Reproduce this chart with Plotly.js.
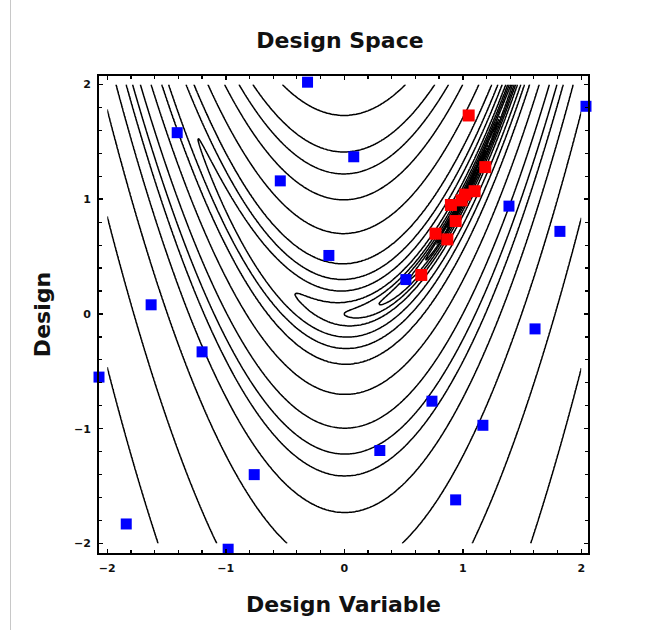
<!DOCTYPE html>
<html><head><meta charset="utf-8">
<script src="https://cdn.plot.ly/plotly-3.0.1.min.js"></script>
<style>
html,body{margin:0;padding:0;background:#fff;}
#frame{position:absolute;left:10px;top:0;width:0;height:630px;border-left:1px solid #c8c8c8;}
</style>
</head><body>
<div id="chart" style="width:652px;height:630px;"></div>
<div id="frame"></div>
<script>
// Contour levels of the design-space objective
const contourLevels = [0.01, 0.02, 0.05, 0.1, 0.2, 0.5, 1, 2, 5, 10, 20, 50, 100, 150, 200, 300, 500, 1000, 2000];
const gridMin = -2, gridMax = 2, gridStep = 0.01;

// Sample designs (blue) and optimizer path (red)
const blueX = [-0.31, 2.04, -1.41, 0.08, -0.54, 1.39, 1.82, -0.13, 0.52, -1.63, 1.61, -1.20, -2.07, 0.74, 1.17, 0.30, -0.76, 0.94, -1.84, -0.98];
const blueY = [2.02, 1.81, 1.58, 1.37, 1.16, 0.94, 0.72, 0.51, 0.30, 0.08, -0.13, -0.33, -0.55, -0.76, -0.97, -1.19, -1.40, -1.62, -1.83, -2.05];
const redX = [1.05, 1.19, 1.10, 1.02, 0.99, 0.90, 0.94, 0.77, 0.87, 0.65];
const redY = [1.73, 1.28, 1.07, 1.04, 0.99, 0.95, 0.81, 0.70, 0.65, 0.34];

const xTickVals = [-2, -1, 0, 1, 2];
const yTickVals = [-2, -1, 0, 1, 2];

// Objective (Rosenbrock) evaluated on the grid, mapped to level index
function objective(x, y) { return (1 - x) * (1 - x) + 100 * (y - x * x) * (y - x * x); }
function levelIndex(f) {
  const L = contourLevels, n = L.length;
  if (f <= L[0]) return -1 + f / L[0];
  for (let i = 0; i < n - 1; i++) {
    if (f < L[i + 1]) return i + (f - L[i]) / (L[i + 1] - L[i]);
  }
  return n - 1 + (f - L[n - 1]) / L[n - 1];
}
const gx = [], gy = [];
for (let v = gridMin; v <= gridMax + 1e-9; v += gridStep) { gx.push(+v.toFixed(4)); gy.push(+v.toFixed(4)); }
const gz = gy.map(y => gx.map(x => levelIndex(objective(x, y))));

const fontFam = '"DejaVu Sans", Verdana, sans-serif';

const traces = [
  {
    type: 'contour', x: gx, y: gy, z: gz,
    autocontour: false,
    contours: { start: 0, end: contourLevels.length - 1, size: 1, coloring: 'lines', showlabels: false },
    colorscale: [[0, '#000000'], [1, '#000000']],
    showscale: false,
    line: { width: 1.5, smoothing: 0 },
    hoverinfo: 'skip'
  },
  {
    type: 'scatter', mode: 'markers', x: blueX, y: blueY, cliponaxis: false,
    marker: { symbol: 'square', size: 11, color: '#0000ff', line: { width: 0 } },
    showlegend: false
  },
  {
    type: 'scatter', mode: 'markers', x: redX, y: redY, cliponaxis: false,
    marker: { symbol: 'square', size: 12, color: '#ff0000', line: { width: 0 } },
    showlegend: false
  }
];

const axisCommon = {
  showgrid: false, zeroline: false,
  showline: true, linecolor: '#000', linewidth: 2, mirror: 'ticks',
  ticks: 'inside', ticklen: 4, tickwidth: 1.5, tickcolor: '#000',
  tickmode: 'array',
  tickfont: { family: fontFam, size: 11, color: '#111', weight: 'bold' },
  minor: { ticks: 'inside', ticklen: 3, tickwidth: 1.2, tickcolor: '#000', dtick: 0.2, showgrid: false },
  fixedrange: true
};

const layout = {
  width: 652, height: 630,
  margin: { l: 99, r: 64, t: 76, b: 77 },
  paper_bgcolor: '#fff', plot_bgcolor: '#fff',
  showlegend: false,
  title: {
    text: 'Design Space',
    font: { family: fontFam, size: 22, color: '#111', weight: 'bold' },
    x: 340 / 652, xref: 'container', xanchor: 'center', y: 1 - 40 / 630, yref: 'container', yanchor: 'middle'
  },
  xaxis: Object.assign({}, axisCommon, {
    range: [-2.07, 2.057],
    tickvals: xTickVals,
    ticklabelstandoff: 4,
    title: { text: 'Design Variable', standoff: 22, font: { family: fontFam, size: 22, color: '#111', weight: 'bold' } }
  }),
  yaxis: Object.assign({}, axisCommon, {
    range: [-2.083, 2.074],
    tickvals: yTickVals,
    ticklabelstandoff: 4,
    title: { text: 'Design', standoff: 17, font: { family: fontFam, size: 22, color: '#111', weight: 'bold' } }
  })
};

Plotly.newPlot('chart', traces, layout, { staticPlot: true, displayModeBar: false });
</script>
</body></html>
